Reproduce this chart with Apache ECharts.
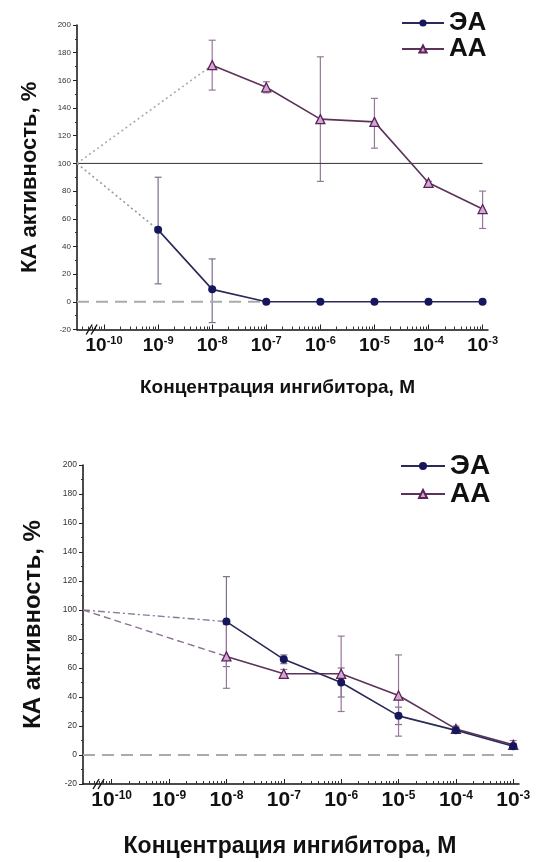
<!DOCTYPE html>
<html><head><meta charset="utf-8">
<script src="https://cdn.jsdelivr.net/npm/echarts@6/dist/echarts.min.js"></script>
<style>html,body{margin:0;padding:0;background:#fff}#c{width:541px;height:862px}</style>
</head><body><div id="c"></div>
<script>
// ---- data (x = log10 of concentration, M) ----
const decadeTicks = [-10, -9, -8, -7, -6, -5, -4, -3];
const xMin = -10.5, xMax = -2.9;
const controlLevel = 100;

// top panel
const topEA_x  = [-9, -8, -7, -6, -5, -4, -3];
const topEA_y  = [52, 9, 0, 0, 0, 0, 0];
const topEA_lo = [13, -15, 0, 0, 0, 0, 0];
const topEA_hi = [90, 31, 0, 0, 0, 0, 0];
const topAA_x  = [-8, -7, -6, -5, -4, -3];
const topAA_y  = [171, 155, 132, 130, 86, 67];
const topAA_lo = [153, 151, 87, 111, 85, 53];
const topAA_hi = [189, 159, 177, 147, 87, 80];

// bottom panel
const botEA_x  = [-8, -7, -6, -5, -4, -3];
const botEA_y  = [92, 66, 50, 27, 17, 6];
const botEA_lo = [61, 63, 40, 21, 15, 4];
const botEA_hi = [123, 69, 60, 33, 19, 8];
const botAA_x  = [-8, -7, -6, -5, -4, -3];
const botAA_y  = [68, 56, 56, 41, 18, 7];
const botAA_lo = [46, 53, 30, 13, 16, 4];
const botAA_hi = [90, 59, 82, 69, 20, 10];

const yTitle = 'КА активность, %';
const xTitle = 'Концентрация ингибитора, М';
const names = ['ЭА', 'АА'];

// ---- styling ----
const EA_COLOR = '#16165c', EA_LINE = '#2a2a58';
const AA_FILL = '#d4a8d4', AA_EDGE = '#5a2258', AA_LINE = '#5c3358';
const ERR_EA = '#7d6f8c', ERR_AA = '#97779a';
const FONT = 'Liberation Sans, Arial';

const minorTicks = [];
for (let d = -11; d <= -3; d++) for (let k = 2; k <= 9; k++) {
  const v = d + Math.log10(k);
  if (v > xMin && v < xMax) minorTicks.push(v);
}

function pts(xs, ys) { return xs.map((x, i) => [x, ys[i]]); }
function errData(xs, lo, hi) {
  return xs.map((x, i) => [x, lo[i], hi[i]]).filter(d => d[1] !== d[2]);
}
function errSeries(xi, yi, data, color) {
  return {
    type: 'custom', xAxisIndex: xi, yAxisIndex: yi, z: 1, silent: true,
    data: data, encode: { x: 0, y: [1, 2] },
    renderItem: function (params, api) {
      const x = api.value(0);
      const p1 = api.coord([x, api.value(1)]);
      const p2 = api.coord([x, api.value(2)]);
      const w = 3.5;
      const st = { stroke: color, lineWidth: 1.2 };
      return { type: 'group', children: [
        { type: 'line', shape: { x1: p1[0], y1: p1[1], x2: p2[0], y2: p2[1] }, style: st },
        { type: 'line', shape: { x1: p1[0] - w, y1: p1[1], x2: p1[0] + w, y2: p1[1] }, style: st },
        { type: 'line', shape: { x1: p2[0] - w, y1: p2[1], x2: p2[0] + w, y2: p2[1] }, style: st }
      ]};
    }
  };
}

function xAxes(gi, fs, sfs, gap, nfs, npad) {
  return [{
    gridIndex: gi, type: 'value', min: xMin, max: xMax, position: 'bottom',
    axisLine: { show: true, onZero: false, lineStyle: { color: '#111', width: 1.5 } },
    axisTick: { show: true, inside: true, length: 5, customValues: decadeTicks, lineStyle: { color: '#222' } },
    axisLabel: {
      show: true, customValues: decadeTicks, margin: 6,
      formatter: v => '{b|10}{s|' + v + '}',
      rich: {
        b: { fontFamily: FONT, fontWeight: 'bold', fontSize: fs, color: '#111' },
        s: { fontFamily: FONT, fontWeight: 'bold', fontSize: sfs, color: '#111', verticalAlign: 'top', padding: [0, 0, 9, 0] }
      }
    },
    splitLine: { show: false },
    name: xTitle, nameLocation: 'middle', nameGap: gap,
    nameTextStyle: { fontFamily: FONT, fontWeight: 'bold', fontSize: nfs, color: '#111', padding: npad }
  }, {
    gridIndex: gi, type: 'value', min: xMin, max: xMax, position: 'bottom', offset: 0,
    axisLine: { show: false, onZero: false },
    axisTick: { show: true, inside: true, length: 3, customValues: minorTicks, lineStyle: { color: '#333' } },
    axisLabel: { show: false }, splitLine: { show: false }
  }];
}
function yAxis(gi, fs, gap, nfs) {
  return {
    gridIndex: gi, type: 'value', min: -20, max: 200, interval: 20,
    axisLine: { show: true, onZero: false, lineStyle: { color: '#111', width: 1.5 } },
    axisTick: { show: true, inside: false, length: 4, lineStyle: { color: '#222' } },
    minorTick: { show: true, splitNumber: 2, length: 2, lineStyle: { color: '#333' } },
    axisLabel: { fontFamily: FONT, fontSize: fs, color: '#333', margin: 6 },
    splitLine: { show: false },
    name: yTitle, nameLocation: 'middle', nameGap: gap, nameRotate: 90,
    nameTextStyle: { fontFamily: FONT, fontWeight: 'bold', fontSize: nfs, color: '#111' }
  };
}
function eaSeries(xi, yi, data) {
  return { name: names[0], type: 'line', xAxisIndex: xi, yAxisIndex: yi, data: data, z: 5,
    symbol: 'circle', symbolSize: 8, itemStyle: { color: EA_COLOR },
    lineStyle: { color: EA_LINE, width: 1.6 } };
}
function aaSeries(xi, yi, data) {
  return { name: names[1], type: 'line', xAxisIndex: xi, yAxisIndex: yi, data: data, z: 4,
    symbol: 'triangle', symbolSize: 9,
    itemStyle: { color: AA_FILL, borderColor: AA_EDGE, borderWidth: 1.3 },
    lineStyle: { color: AA_LINE, width: 1.6 } };
}
function helper(xi, yi, data, color, type, width) {
  return { type: 'line', xAxisIndex: xi, yAxisIndex: yi, data: data, symbol: 'none', silent: true, z: 2,
    lineStyle: { color: color, type: type, width: width } };
}

const option = {
  animation: false,
  backgroundColor: '#fff',
  grid: [
    { left: 77, right: 53, top: 25, height: 304.5 },
    { left: 83, right: 22, top: 465, height: 319 }
  ],
  xAxis: [...xAxes(0, 19, 11, 49, 19, [0, 10, 0, 0]), ...xAxes(1, 21, 12, 51, 23, [0, 22, 0, 0])],
  yAxis: [yAxis(0, 8, 36, 22), yAxis(1, 8.5, 38, 24)],
  legend: [
    { data: names, left: 396, top: 5, orient: 'vertical', itemGap: 0, itemWidth: 42, itemHeight: 9,
      textStyle: { fontFamily: FONT, fontWeight: 'bold', fontSize: 26, color: '#111' } },
    { data: names, left: 395, top: 447, orient: 'vertical', itemGap: 0, itemWidth: 44, itemHeight: 10,
      textStyle: { fontFamily: FONT, fontWeight: 'bold', fontSize: 28, color: '#111' } }
  ],
  series: [
    // top panel
    helper(0, 0, [[xMin, controlLevel], [-3, controlLevel]], '#333', 'solid', 1),
    helper(0, 0, [[xMin, 0], [-7, 0]], '#aaa', [12, 7], 2),
    helper(0, 0, [[xMin, controlLevel], [topEA_x[0], topEA_y[0]]], '#999', [2, 3], 1.6),
    helper(0, 0, [[xMin, controlLevel], [topAA_x[0], topAA_y[0]]], '#aaa', [2, 3], 1.6),
    errSeries(0, 0, errData(topEA_x, topEA_lo, topEA_hi), ERR_EA),
    errSeries(0, 0, errData(topAA_x, topAA_lo, topAA_hi), ERR_AA),
    eaSeries(0, 0, pts(topEA_x, topEA_y)),
    aaSeries(0, 0, pts(topAA_x, topAA_y)),
    // bottom panel
    helper(2, 1, [[xMin, 0], [-3, 0]], '#aaa', [12, 7], 2),
    helper(2, 1, [[xMin, controlLevel], [botEA_x[0], botEA_y[0]]], '#8a7c98', [7, 3, 2, 3], 1.4),
    helper(2, 1, [[xMin, controlLevel], [botAA_x[0], botAA_y[0]]], '#8a7290', [7, 4], 1.4),
    errSeries(2, 1, errData(botEA_x, botEA_lo, botEA_hi), ERR_EA),
    errSeries(2, 1, errData(botAA_x, botAA_lo, botAA_hi), ERR_AA),
    eaSeries(2, 1, pts(botEA_x, botEA_y)),
    aaSeries(2, 1, pts(botAA_x, botAA_y))
  ]
};

const chart = echarts.init(document.getElementById('c'), null, { renderer: 'canvas' });
chart.setOption(option);

// axis-break marks "//" on each x axis
const breaks = [];
[[0, 0], [2, 1]].forEach(([xi, yi]) => {
  const p = chart.convertToPixel({ xAxisIndex: xi, yAxisIndex: yi }, [-10.22, -20]);
  [-3, 2].forEach(dx => {
    breaks.push({ type: 'line', z: 100,
      shape: { x1: p[0] + dx - 3, y1: p[1] + 5, x2: p[0] + dx + 3, y2: p[1] - 5 },
      style: { stroke: '#111', lineWidth: 1.4 } });
  });
});
chart.setOption({ graphic: breaks });
</script></body></html>
